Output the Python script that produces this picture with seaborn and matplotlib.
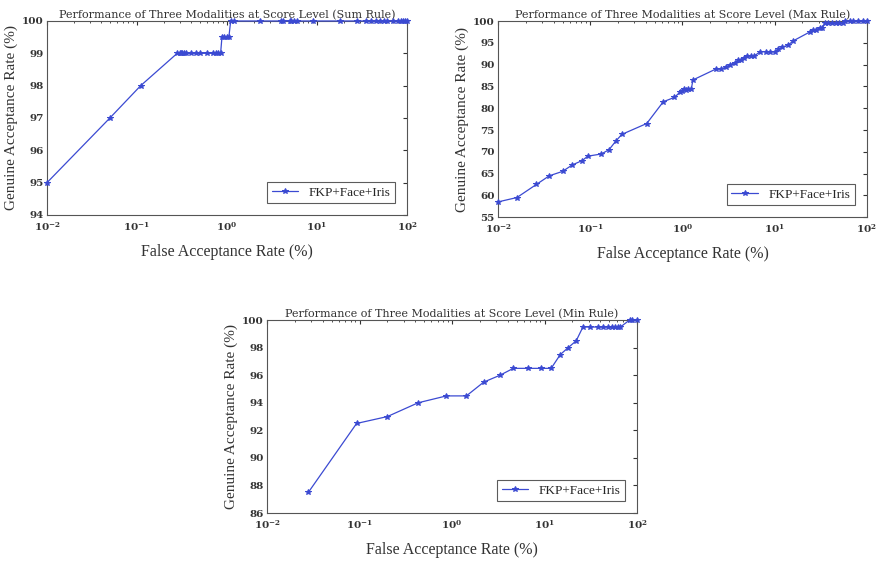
import numpy as np
import pandas as pd
import matplotlib
matplotlib.use("Agg")
import matplotlib.pyplot as plt
import seaborn as sns
from matplotlib.ticker import LogLocator, NullFormatter

sns.set_style("white")
plt.rcParams['font.family'] = ['DejaVu Serif']

# Sum rule
sum_far = [0.01, 0.05, 0.11, 0.28, 0.30, 0.31, 0.32, 0.33, 0.35, 0.40, 0.45, 0.50,
           0.60, 0.70, 0.75, 0.80, 0.85, 0.88, 0.92, 1.0, 1.05, 1.1, 1.2,
           2.3, 4.0, 4.2, 5.0, 5.2, 5.5, 6.0, 9.0, 18, 28, 35, 40, 45, 50, 55,
           60, 70, 80, 85, 90, 95, 100]
sum_gar = [95, 97, 98, 99, 99, 99, 99, 99, 99, 99, 99, 99,
           99, 99, 99, 99, 99, 99.5, 99.5, 99.5, 99.5, 100, 100,
           100, 100, 100, 100, 100, 100, 100, 100, 100, 100, 100, 100, 100, 100, 100,
           100, 100, 100, 100, 100, 100, 100]

# Max rule
max_far = [0.01, 0.016, 0.026, 0.036, 0.05, 0.064, 0.082, 0.094, 0.132, 0.16, 0.19,
           0.22, 0.41, 0.62, 0.82, 0.95, 1.0, 1.05, 1.1, 1.15, 1.25, 1.3,
           2.3, 2.6, 3.0, 3.3, 3.7, 4.0, 4.3, 4.6, 5.0, 5.5, 6.0, 7.0, 8.0, 9.0,
           10, 11, 12, 14, 16, 24, 26, 28, 31, 33, 35, 38, 42, 46, 50, 55, 58,
           65, 70, 80, 90, 100]
max_gar = [58.5, 59.5, 62.5, 64.5, 65.5, 67, 68, 69, 69.5, 70.5, 72.5,
           74, 76.5, 81.5, 82.5, 83.8, 84, 84.5, 84.2, 84.5, 84.5, 86.5,
           89, 89, 89.5, 90, 90.5, 91, 91, 91.5, 92, 92, 92, 93, 93, 93,
           93, 93.5, 94, 94.5, 95.5, 97.5, 98, 98, 98.5, 98.5, 99.5, 99.5, 99.5, 99.5, 99.5, 99.5, 100,
           100, 100, 100, 100, 100]

# Min rule
min_far = [0.028, 0.093, 0.2, 0.43, 0.87, 1.43, 2.2, 3.3, 4.6, 6.6, 9.1, 11.8,
           14.8, 18, 22, 26, 31, 38, 43, 49, 53, 58, 63, 66, 83, 88, 100]
min_gar = [87.5, 92.5, 93, 94, 94.5, 94.5, 95.5, 96, 96.5, 96.5, 96.5, 96.5,
           97.5, 98, 98.5, 99.5, 99.5, 99.5, 99.5, 99.5, 99.5, 99.5, 99.5, 99.5, 100, 100, 100]

panels = [
    ("Sum Rule", sum_far, sum_gar, [0.0534, 0.6188, 0.409, 0.344], (94, 100), np.arange(94, 101, 1)),
    ("Max Rule", max_far, max_gar, [0.566, 0.615, 0.419, 0.3475], (55, 100), np.arange(55, 101, 5)),
    ("Min Rule", min_far, min_gar, [0.3034, 0.0904, 0.4205, 0.342], (86, 100), np.arange(86, 101, 2)),
]

fig = plt.figure(figsize=(8.8, 5.64), dpi=100)
color = "#3b4ad2"

for rule, far, gar, pos, ylim, yticks in panels:
    ax = fig.add_axes(pos)
    df = pd.DataFrame({"FAR": far, "GAR": gar})
    sns.lineplot(data=df, x="FAR", y="GAR", ax=ax, estimator=None, sort=False,
                 color=color, marker="*", markersize=4, markeredgecolor=color,
                 linewidth=0.9, label="FKP+Face+Iris", clip_on=False, zorder=5)
    ax.set_xscale("log")
    ax.set_xlim(0.01, 100)
    ax.set_ylim(*ylim)
    ax.set_yticks(yticks)
    ax.xaxis.set_major_locator(LogLocator(base=10, numticks=10))
    ax.xaxis.set_minor_locator(LogLocator(base=10, subs=np.arange(2, 10), numticks=50))
    ax.xaxis.set_minor_formatter(NullFormatter())
    ax.tick_params(which="both", direction="in", top=True, right=True,
                   labelsize=7.5, colors="#333333", pad=4)
    ax.tick_params(axis="y", pad=2.5)
    ax.tick_params(which="major", length=3)
    ax.tick_params(which="minor", length=1.5)
    for lab in ax.get_xticklabels() + ax.get_yticklabels():
        lab.set_fontweight("bold")
    for sp in ax.spines.values():
        sp.set_color("#555555")
        sp.set_linewidth(0.8)
    ax.set_title(f"Performance of Three Modalities at Score Level ({rule})",
                 fontsize=8, pad=2, color="#333333")
    ax.set_xlabel("False Acceptance Rate (%)", fontsize=11.5, labelpad=8,
                  family="Liberation Serif", color="#333333")
    ax.set_ylabel("Genuine Acceptance Rate (%)", fontsize=11, labelpad=3,
                  family="Liberation Serif", color="#333333")
    leg = ax.legend(loc="lower right", frameon=True, fancybox=False,
                    borderpad=0.35, handlelength=2.0, borderaxespad=0.9,
                    prop={"family": "Liberation Serif", "size": 9.5})
    leg.get_frame().set_edgecolor("#333333")
    leg.get_frame().set_linewidth(0.8)

fig.savefig("out.png", dpi=100)
